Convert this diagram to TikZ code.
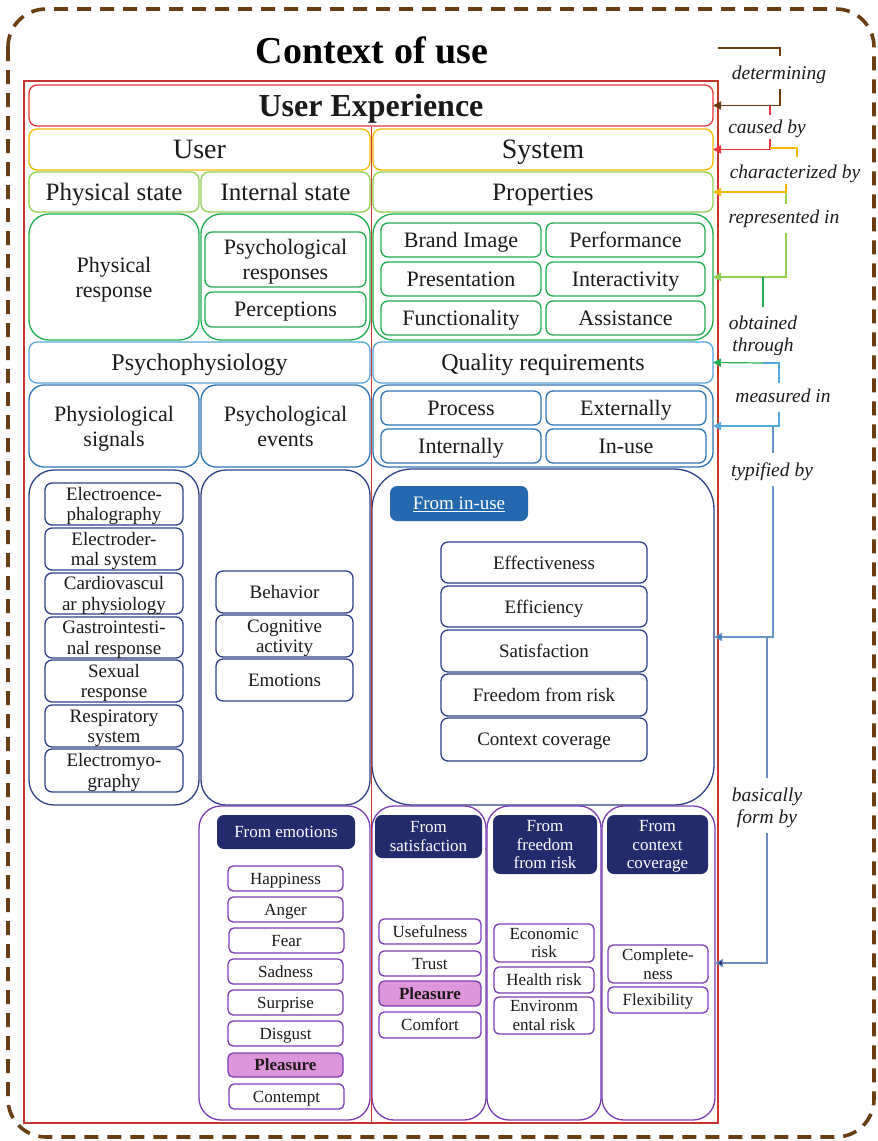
\documentclass[tikz,border=0pt]{standalone}
\usepackage{fontspec}
\setmainfont{Liberation Serif}
\usetikzlibrary{arrows.meta}
\definecolor{cBrown}{HTML}{6B3D12}
\definecolor{cFrame}{HTML}{C8352D}
\definecolor{cRed}{HTML}{E8343A}
\definecolor{cYel}{HTML}{F7B900}
\definecolor{cLGreen}{HTML}{92D050}
\definecolor{cGreen}{HTML}{1EAE50}
\definecolor{cLBlue}{HTML}{55A7DD}
\definecolor{cBlue}{HTML}{2E75B6}
\definecolor{cNavy}{HTML}{2E3F86}
\definecolor{cTag}{HTML}{222C6C}
\definecolor{cInUse}{HTML}{2369AF}
\definecolor{cPurple}{HTML}{7B3DB3}
\definecolor{cPlum}{HTML}{DE96DA}
\definecolor{cSteel}{HTML}{6C8CC0}
\definecolor{txt}{HTML}{1A1A1A}
\newcommand\myBoxNode[7]{\node[#2, minimum width={#5-#3}, minimum height={#6-#4}] (#1) at ({(#3+#5)/2},{(#4+#6)/2}) {#7};}
\tikzset{
  base/.style={rectangle, draw, fill=white, inner sep=0pt, outer sep=0pt, line width=1.3pt, align=center, text=txt, text depth=0pt},
  fA/.style={font=\fontsize{28}{30}\selectfont},
  fB/.style={font=\fontsize{25}{27}\selectfont},
  fC/.style={font=\fontsize{22}{25}\selectfont},
  fD/.style={font=\fontsize{19}{20.5}\selectfont},
  fE/.style={font=\fontsize{17}{18.5}\selectfont},
  uxbox/.style={base, draw=cRed, rounded corners=8pt, font=\bfseries\fontsize{32}{34}\selectfont},
  ylbox/.style={base, draw=cYel, rounded corners=8pt, fA},
  lgbox/.style={base, draw=cLGreen, rounded corners=8pt, fB},
  gcont/.style={base, draw=cGreen, rounded corners=20pt, fC},
  gitem/.style={base, draw=cGreen, rounded corners=7pt, fC},
  lbbox/.style={base, draw=cLBlue, rounded corners=8pt, font=\fontsize{24}{26}\selectfont},
  bcont/.style={base, draw=cBlue, rounded corners=15pt, fC},
  bitem/.style={base, draw=cBlue, rounded corners=7pt, fC},
  ncont/.style={base, draw=cNavy, rounded corners=25pt},
  nitem/.style={base, draw=cNavy, rounded corners=7pt, fD},
  pcont/.style={base, draw=cPurple, rounded corners=22pt},
  pitem/.style={base, draw=cPurple, rounded corners=5pt, fE},
  pleas/.style={pitem, fill=cPlum, font=\bfseries\fontsize{17}{18.5}\selectfont},
  tag/.style={base, draw=none, fill=cTag, text=white, rounded corners=7pt, fE},
  lab/.style={font=\itshape\fontsize{19.5}{22}\selectfont, text=txt, align=center, inner sep=0pt, text depth=0pt},
  conn/.style={line width=1.2pt},
  tip/.style={-{Triangle[length=8pt,width=8pt]}}
}
\begin{document}
\begin{tikzpicture}[x=1pt,y=-1pt]
\useasboundingbox (0,0) rectangle (878,1141);
% outer dashed frame
\draw[cBrown, line width=3.6pt, dash pattern=on 14pt off 9pt, rounded corners=38pt] (8,9) rectangle (874,1137);
% title
\node[font=\bfseries\fontsize{38}{40}\selectfont, text=black] (title) at (372,50) {Context of use};
% red frame
\draw[cFrame, line width=2pt] (24,81) rectangle (718,1123);

% rows
\myBoxNode{ux}{uxbox}{29}{85}{713}{126}{User Experience}
\myBoxNode{user}{ylbox}{29}{129}{370}{170}{User}
\myBoxNode{sys}{ylbox}{373}{129}{713}{170}{System}
\myBoxNode{pst}{lgbox}{29}{172}{199}{212}{Physical state}
\myBoxNode{ist}{lgbox}{201}{172}{370}{212}{Internal state}
\myBoxNode{props}{lgbox}{373}{172}{713}{212}{Properties}
\myBoxNode{pres}{gcont}{29}{214}{199}{340}{Physical\\response}
\myBoxNode{intc}{gcont}{201}{214}{370}{340}{}
\myBoxNode{psr}{gitem}{205}{232}{366}{287}{Psychological\\responses}
\myBoxNode{perc}{gitem}{205}{292}{366}{327}{Perceptions}
\myBoxNode{propc}{gcont}{373}{214}{713}{340}{}
\myBoxNode{brand}{gitem}{381}{223}{541}{257}{Brand Image}
\myBoxNode{perf}{gitem}{546}{223}{705}{257}{Performance}
\myBoxNode{prest}{gitem}{381}{262}{541}{296}{Presentation}
\myBoxNode{inter}{gitem}{546}{262}{705}{296}{Interactivity}
\myBoxNode{func}{gitem}{381}{301}{541}{335}{Functionality}
\myBoxNode{assist}{gitem}{546}{301}{705}{335}{Assistance}
\myBoxNode{psy}{lbbox}{29}{342}{370}{383}{Psychophysiology}
\myBoxNode{qr}{lbbox}{373}{342}{713}{383}{Quality requirements}
\myBoxNode{physig}{bcont}{29}{385}{199}{467}{Physiological\\signals}
\myBoxNode{psyev}{bcont}{201}{385}{370}{467}{Psychological\\events}
\myBoxNode{qrc}{bcont}{373}{385}{713}{467}{}
\myBoxNode{proc}{bitem}{381}{391}{541}{425}{Process}
\myBoxNode{ext}{bitem}{546}{391}{706}{425}{Externally}
\myBoxNode{intl}{bitem}{381}{429}{541}{463}{Internally}
\myBoxNode{inuse}{bitem}{546}{429}{706}{463}{In-use}

% navy containers
\myBoxNode{sigc}{ncont}{29}{470}{199}{805}{}
\myBoxNode{e1}{nitem}{45}{483}{183}{525}{Electroence-\\phalography}
\myBoxNode{e2}{nitem}{45}{528}{183}{570}{Electroder-\\mal system}
\myBoxNode{e3}{nitem}{45}{573}{183}{614}{Cardiovascul\\ar physiology}
\myBoxNode{e4}{nitem}{45}{617}{183}{658}{Gastrointesti-\\nal response}
\myBoxNode{e5}{nitem}{45}{660}{183}{702}{Sexual\\response}
\myBoxNode{e6}{nitem}{45}{705}{183}{747}{Respiratory\\system}
\myBoxNode{e7}{nitem}{45}{749}{183}{792}{Electromyo-\\graphy}
\myBoxNode{evc}{ncont}{201}{470}{370}{805}{}
\myBoxNode{beh}{nitem}{216}{571}{353}{613}{Behavior}
\myBoxNode{cog}{nitem}{216}{615}{353}{657}{Cognitive\\activity}
\myBoxNode{emo}{nitem}{216}{659}{353}{701}{Emotions}
\myBoxNode{iuc}{ncont, rounded corners=40pt}{372}{469}{714}{805}{}
\myBoxNode{tagiu}{tag, fill=cInUse, fD}{390}{486}{528}{521}{\underline{From in-use}}
\myBoxNode{eff}{nitem}{441}{542}{647}{583}{Effectiveness}
\myBoxNode{effi}{nitem}{441}{586}{647}{627}{Efficiency}
\myBoxNode{sat}{nitem}{441}{630}{647}{672}{Satisfaction}
\myBoxNode{free}{nitem}{441}{674}{647}{716}{Freedom from risk}
\myBoxNode{ctx}{nitem}{441}{718}{647}{761}{Context coverage}

% purple containers
\myBoxNode{emc}{pcont}{199}{806}{370}{1120}{}
\myBoxNode{tage}{tag}{217}{815}{355}{849}{From emotions}
\myBoxNode{hap}{pitem}{228}{866}{343}{891}{Happiness}
\myBoxNode{ang}{pitem}{228}{897}{343}{922}{Anger}
\myBoxNode{fear}{pitem}{229}{928}{344}{953}{Fear}
\myBoxNode{sad}{pitem}{228}{959}{343}{984}{Sadness}
\myBoxNode{sur}{pitem}{228}{990}{343}{1015}{Surprise}
\myBoxNode{dis}{pitem}{228}{1021}{343}{1046}{Disgust}
\myBoxNode{plea}{pleas}{228}{1053}{343}{1077}{Pleasure}
\myBoxNode{cont}{pitem}{229}{1084}{344}{1109}{Contempt}
\myBoxNode{satc}{pcont}{372}{806}{486}{1120}{}
\myBoxNode{tags}{tag}{375}{815}{482}{858}{From\\satisfaction}
\myBoxNode{usef}{pitem}{379}{919}{481}{944}{Usefulness}
\myBoxNode{trust}{pitem}{379}{951}{481}{976}{Trust}
\myBoxNode{pleb}{pleas}{379}{981}{481}{1006}{Pleasure}
\myBoxNode{comf}{pitem}{379}{1012}{481}{1038}{Comfort}
\myBoxNode{frc}{pcont}{487}{806}{601}{1120}{}
\myBoxNode{tagf}{tag}{493}{815}{597}{874}{From\\freedom\\from risk}
\myBoxNode{eco}{pitem}{494}{924}{594}{962}{Economic\\risk}
\myBoxNode{hea}{pitem}{494}{967}{594}{993}{Health risk}
\myBoxNode{env}{pitem}{494}{997}{594}{1034}{Environm\\ental risk}
\myBoxNode{ctxc}{pcont}{602}{806}{715}{1120}{}
\myBoxNode{tagc}{tag}{607}{815}{708}{874}{From\\context\\coverage}
\myBoxNode{comp}{pitem}{608}{945}{708}{983}{Complete-\\ness}
\myBoxNode{flex}{pitem}{608}{987}{708}{1013}{Flexibility}

% middle divider
\draw[cFrame, line width=1pt] (371.5,127) -- (371.5,1123);

% connector labels
\node[lab] (ldet) at (779,73) {determining};
\node[lab] (lcau) at (767,127) {caused by};
\node[lab] (lcha) at (795,172) {characterized by};
\node[lab] (lrep) at (784,217) {represented in};
\node[lab] (lobt) at (763,334) {obtained\\through};
\node[lab] (lmea) at (783,396) {measured in};
\node[lab] (ltyp) at (772,470) {typified by};
\node[lab] (lbas) at (767,806) {basically\\form by};

% connector points
\coordinate (b0) at (718,48);
\coordinate (b1) at (780,56);
\coordinate (b2) at (780,89);
\coordinate (r0) at (770,105);
\coordinate (r1) at (770,115);
\coordinate (r2) at (770,139);
\coordinate (y0) at (770,148);
\coordinate (y1) at (797,157);
\coordinate (y2) at (786,184);
\coordinate (g0) at (786,193);
\coordinate (g1) at (786,204);
\coordinate (g2) at (786,233);
\coordinate (k0) at (763,277);
\coordinate (k1) at (763,307);
\coordinate (k2) at (763,363);
\coordinate (m1) at (779,383);
\coordinate (m2) at (779,412);
\coordinate (t0) at (773,426);
\coordinate (t1) at (773,453);
\coordinate (t2) at (773,486);
\coordinate (s0) at (767,637);
\coordinate (s1) at (767,778);
\coordinate (s2) at (767,833);

% connectors
\draw[conn, cBrown] (b0) -| (b1);
\draw[conn, cBrown, tip] (b2) |- (ux.east);
\draw[conn, cRed] (r0) -- (r1);
\draw[conn, cRed, tip] (r2) |- (sys.east);
\draw[conn, cYel] (y0) -| (y1);
\draw[conn, cYel, tip] (y2) |- (props.east);
\draw[conn, cLGreen] (g0) -- (g1);
\draw[conn, cLGreen, tip] (g2) |- (propc.east);
\draw[conn, cGreen] (k0) -- (k1);
\draw[conn, cGreen, tip] (k2) -- (qr.east);
\draw[conn, cLBlue] (k2) -| (m1);
\draw[conn, cLBlue, tip] (m2) |- (qrc.east);
\draw[conn, cBlue!75] (t0) -- (t1);
\draw[conn, cBlue!75, -{Triangle[length=8pt,width=8pt,fill=cBlue]}] (t2) |- (iuc.east);
\draw[conn, cSteel] (s0) -- (s1);
\draw[conn, cSteel, -{Triangle[length=8pt,width=8pt,fill=cTag]}] (s2) |- (ctxc.east);
\end{tikzpicture}
\end{document}
